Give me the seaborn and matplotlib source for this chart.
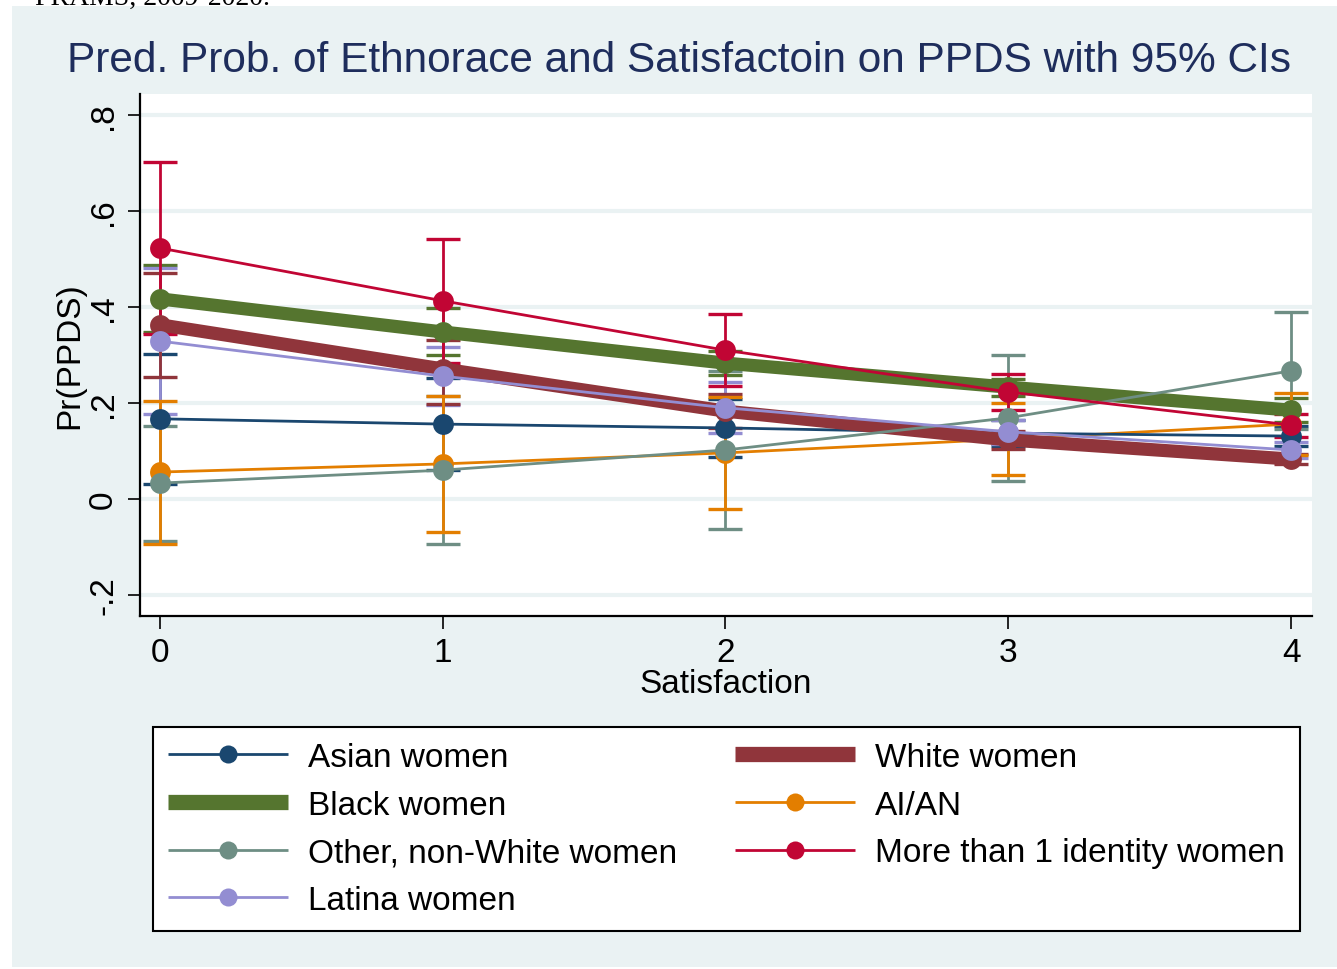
"""Predicted probabilities of PPDS by ethnorace and satisfaction (marginsplot style)."""
import matplotlib
matplotlib.use("Agg")
import matplotlib.pyplot as plt
from matplotlib.lines import Line2D
from matplotlib.patches import Rectangle
import numpy as np
import pandas as pd
import seaborn as sns

# Data
satisfaction = [0, 1, 2, 3, 4]
groups = ["Asian women", "Black women", "Other, non-White women", "Latina women",
          "White women", "AI/AN", "More than 1 identity women"]

asian = [0.167, 0.156, 0.148, 0.137, 0.131]
black = [0.417, 0.348, 0.283, 0.233, 0.185]
other = [0.033, 0.060, 0.102, 0.169, 0.267]
latina = [0.329, 0.256, 0.190, 0.140, 0.102]
white = [0.363, 0.271, 0.183, 0.123, 0.083]
aian = [0.056, 0.073, 0.096, 0.125, 0.156]
multi = [0.523, 0.413, 0.310, 0.223, 0.154]

asian_lo = [0.032, 0.060, 0.088, 0.110, 0.110]
asian_hi = [0.302, 0.252, 0.208, 0.164, 0.152]
black_lo = [0.347, 0.299, 0.258, 0.215, 0.160]
black_hi = [0.487, 0.397, 0.308, 0.251, 0.210]
other_lo = [-0.087, -0.094, -0.063, 0.037, 0.145]
other_hi = [0.153, 0.214, 0.267, 0.301, 0.389]
latina_lo = [0.177, 0.195, 0.137, 0.115, 0.085]
latina_hi = [0.481, 0.317, 0.243, 0.165, 0.119]
white_lo = [0.255, 0.198, 0.147, 0.105, 0.072]
white_hi = [0.471, 0.332, 0.219, 0.141, 0.094]
aian_lo = [-0.093, -0.068, -0.020, 0.050, 0.091]
aian_hi = [0.205, 0.214, 0.212, 0.200, 0.221]
multi_lo = [0.343, 0.284, 0.235, 0.186, 0.130]
multi_hi = [0.703, 0.542, 0.385, 0.260, 0.178]

means = [asian, black, other, latina, white, aian, multi]
lows = [asian_lo, black_lo, other_lo, latina_lo, white_lo, aian_lo, multi_lo]
highs = [asian_hi, black_hi, other_hi, latina_hi, white_hi, aian_hi, multi_hi]

# Stata s2color palette
colors = {
    "Asian women": "#1a476f",
    "Black women": "#55752f",
    "Other, non-White women": "#6e8e84",
    "Latina women": "#938dd2",
    "White women": "#90353b",
    "AI/AN": "#e37e00",
    "More than 1 identity women": "#c10534",
}
widths = {g: 2.0 for g in groups}
widths["Black women"] = 9.5
widths["White women"] = 9.5

df = pd.DataFrame({
    "satisfaction": np.tile(satisfaction, len(groups)),
    "group": np.repeat(groups, len(satisfaction)),
    "prob": np.concatenate(means),
    "lo": np.concatenate(lows),
    "hi": np.concatenate(highs),
})

BG = "#eaf2f3"
TXT = "black"

sns.set_theme(style="white")
plt.rcParams["font.family"] = ["Liberation Sans", "DejaVu Sans"]
plt.rcParams["text.color"] = TXT

fig = plt.figure(figsize=(13.37, 9.7), dpi=100, facecolor="white")
fig.patches.append(Rectangle((12 / 1337, 0.002), 1 - 12 / 1337, 1 - 7 / 970 - 0.002,
                             transform=fig.transFigure, facecolor=BG, edgecolor="none",
                             zorder=-10))
# caption of the source document, cut off at the top edge as in the original
fig.text(270 / 1337, 1 - 5 / 970, "PRAMS, 2009-2020.", ha="right", va="baseline",
         family="Liberation Serif", fontsize=20, color="black")

ax = fig.add_axes([140 / 1337, 1 - 617 / 970, (1312 - 140) / 1337, (617 - 95) / 970])
ax.set_facecolor("white")

# confidence intervals first, then the lines on top
for g in groups:
    sub = df[df["group"] == g]
    ax.errorbar(sub["satisfaction"], sub["prob"],
                yerr=[sub["prob"] - sub["lo"], sub["hi"] - sub["prob"]],
                fmt="none", ecolor=colors[g], elinewidth=2, capsize=12, capthick=2.4,
                zorder=2)

draw_order = ["AI/AN", "Asian women", "Black women", "White women",
              "Other, non-White women", "Latina women", "More than 1 identity women"]
for i, g in enumerate(draw_order):
    sub = df[df["group"] == g]
    sns.lineplot(data=sub, x="satisfaction", y="prob", color=colors[g],
                 linewidth=widths[g], marker="o", markersize=15, markeredgewidth=0,
                 ax=ax, zorder=3 + i, legend=False)

ax.set_xlim(-0.07, 4.074)
ax.set_ylim(-0.244, 0.844)
ax.set_xticks(satisfaction)
ax.set_xticklabels([str(s) for s in satisfaction])
yt = [-0.2, 0, 0.2, 0.4, 0.6, 0.8]
ax.set_yticks(yt)
ax.set_yticklabels(["-.2", "0", ".2", ".4", ".6", ".8"], rotation=90, va="center")
ax.yaxis.grid(True, color=BG, linewidth=3)
ax.xaxis.grid(False)
ax.set_axisbelow(True)
for s in ["top", "right"]:
    ax.spines[s].set_visible(False)
for s in ["left", "bottom"]:
    ax.spines[s].set_color("black")
    ax.spines[s].set_linewidth(1.6)
ax.tick_params(axis="both", direction="out", length=9, width=1.2, color="black",
               labelsize=24, labelcolor=TXT, left=True, bottom=True, pad=6)
ax.set_xlabel("Satisfaction", fontsize=24, color=TXT, labelpad=0)
ax.set_ylabel("Pr(PPDS)", fontsize=24, color=TXT, labelpad=2)

fig.text(679 / 1337, 1 - 61 / 970, "Pred. Prob. of Ethnorace and Satisfactoin on PPDS with 95% CIs",
         ha="center", va="center", fontsize=30.5, color="#1e2d5c")

handles = [Line2D([], [], color=colors[g], linewidth=widths[g] if widths[g] < 5 else 11,
                  marker="o", markersize=13 if widths[g] < 5 else 7, markeredgewidth=0,
                  solid_capstyle="butt")
           for g in groups]
leg = fig.legend(handles, groups, loc="upper left", mode="expand",
                 bbox_to_anchor=(153 / 1337, 40 / 970, 1147 / 1337, 202 / 970), ncol=2,
                 fontsize=24, handlelength=3.6, handletextpad=0.6,
                 columnspacing=1.4, labelspacing=0.5, borderpad=0.45, borderaxespad=0,
                 fancybox=False, framealpha=1, facecolor="white", edgecolor="black",
                 labelcolor=TXT)
leg.get_frame().set_linewidth(1.5)

fig.savefig("out.png", dpi=100, facecolor="white")
